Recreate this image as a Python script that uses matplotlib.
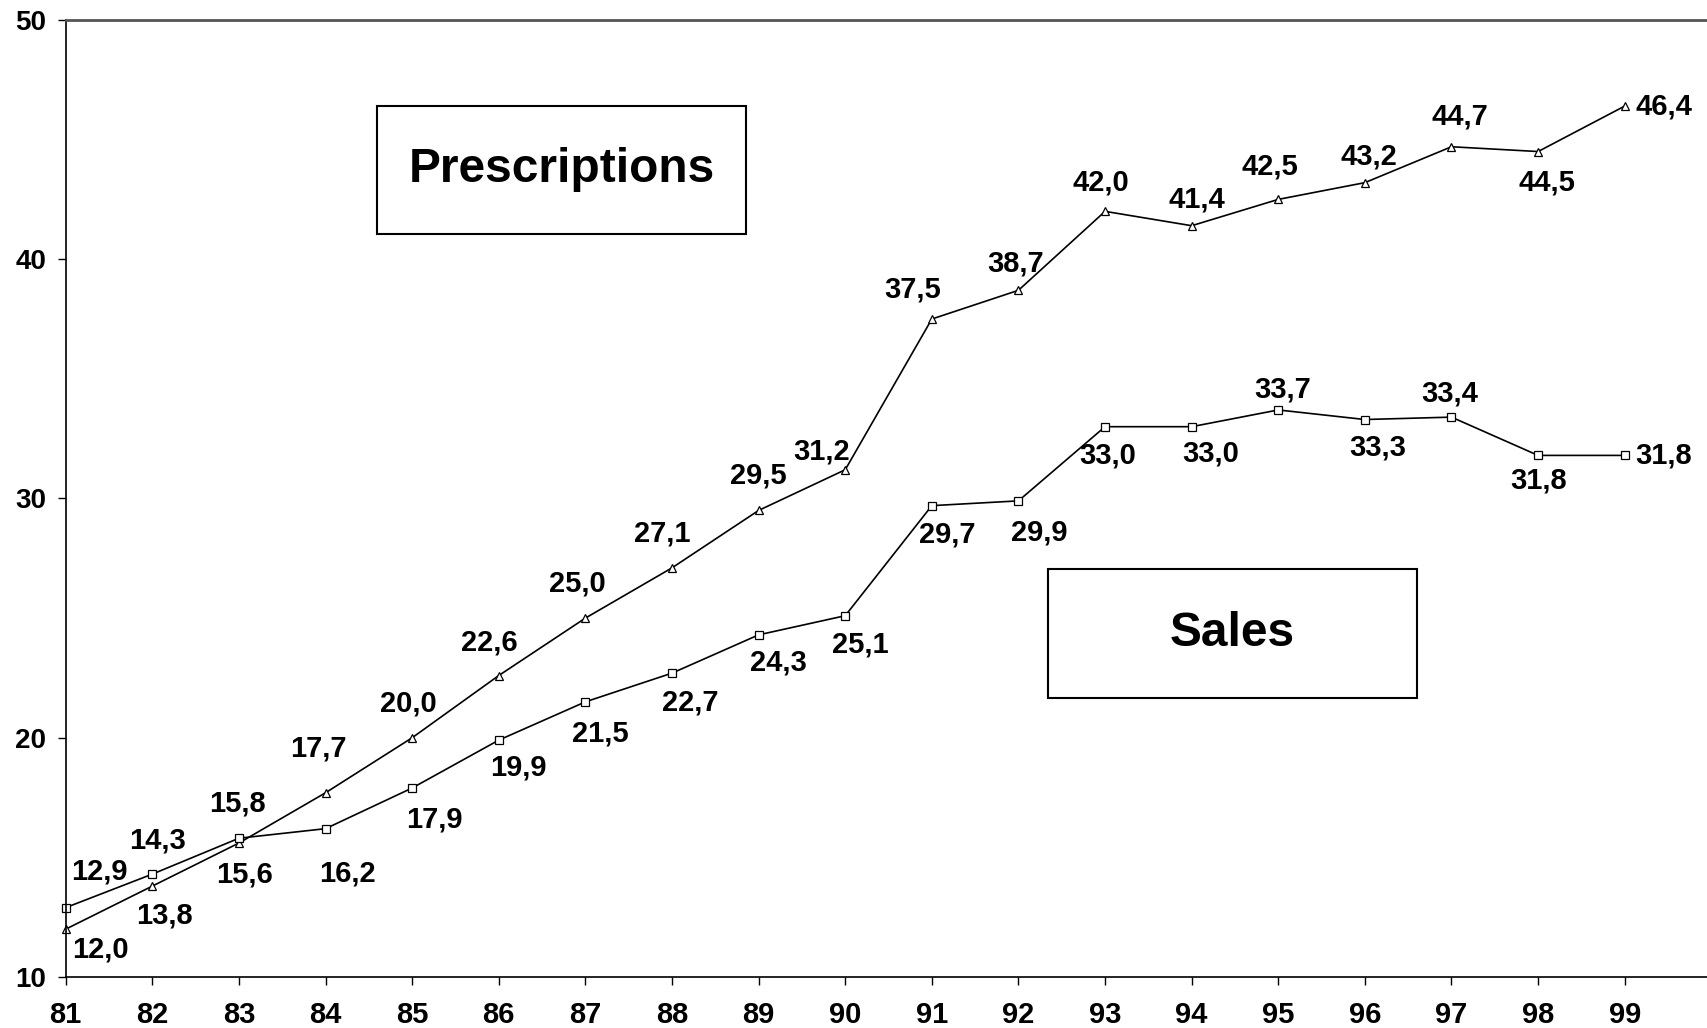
import matplotlib.pyplot as plt
from matplotlib.patches import Rectangle

plt.rcParams['font.family'] = ['Liberation Sans', 'DejaVu Sans']

years = [81, 82, 83, 84, 85, 86, 87, 88, 89, 90, 91, 92, 93, 94, 95, 96, 97, 98, 99]
prescriptions = [12.0, 13.8, 15.6, 17.7, 20.0, 22.6, 25.0, 27.1, 29.5, 31.2,
                 37.5, 38.7, 42.0, 41.4, 42.5, 43.2, 44.7, 44.5, 46.4]
sales = [12.9, 14.3, 15.8, 16.2, 17.9, 19.9, 21.5, 22.7, 24.3, 25.1,
         29.7, 29.9, 33.0, 33.0, 33.7, 33.3, 33.4, 31.8, 31.8]
y_ticks = [10, 20, 30, 40, 50]

# label offsets in points (dx, dy) for each point
presc_off = [(25, -15), (9, -21), (4, -23), (-5, 32), (-3, 25), (-7, 24), (-6, 25),
             (-7, 25), (0, 25), (-17, 13), (-14, 21), (-2, 19), (-3, 21), (4, 19),
             (-6, 24), (3, 19), (6, 22), (6, -22), (28, 0)]
sales_off = [(24, 26), (4, 24), (-1, 25), (16, -32), (16, -23), (14, -20), (11, -23),
             (13, -21), (14, -20), (11, -21), (11, -21), (15, -23), (2, -21), (14, -19),
             (3, 15), (9, -20), (-1, 17), (0, -18), (28, 0)]

fig = plt.figure(figsize=(17.07, 10.28), dpi=100)
ax = fig.add_axes([0.0385, 0.0496, 0.9615, 0.931])

ax.plot(years, prescriptions, color='black', lw=1.2, marker='^', ms=5.5,
        mfc='white', mec='black', mew=0.9, clip_on=False)
ax.plot(years, sales, color='black', lw=1.2, marker='s', ms=5.5,
        mfc='white', mec='black', mew=0.9, clip_on=False)


def fmt(v):
    return f'{v:.1f}'.replace('.', ',')


for x, v, (dx, dy) in zip(years, prescriptions, presc_off):
    ax.annotate(fmt(v), (x, v), xytext=(dx, dy), textcoords='offset points',
                ha='center', va='center', fontsize=21, fontweight='bold')
for x, v, (dx, dy) in zip(years, sales, sales_off):
    ax.annotate(fmt(v), (x, v), xytext=(dx, dy), textcoords='offset points',
                ha='center', va='center', fontsize=21, fontweight='bold')

ax.set_xlim(81, 99.95)
ax.set_ylim(10, 50)
ax.set_xticks(years)
ax.set_xticklabels([str(y) for y in years])
ax.set_yticks(y_ticks)
ax.tick_params(axis='x', direction='out', length=6, width=1, pad=11, labelsize=21)
ax.tick_params(axis='y', direction='out', length=6, width=1, pad=8, labelsize=20)
for lab in ax.get_xticklabels() + ax.get_yticklabels():
    lab.set_fontweight('bold')

ax.spines['right'].set_visible(False)
ax.spines['top'].set_color('#555555')
ax.spines['top'].set_linewidth(2)
for s in ('left', 'bottom'):
    ax.spines[s].set_color('black')
    ax.spines[s].set_linewidth(1.2)

# series name boxes (figure pixel coords)
W, H = 1707, 1028
for (x0, y0, x1, y1), name in [((377, 106, 746, 234), 'Prescriptions'),
                               ((1048, 569, 1417, 698), 'Sales')]:
    fig.patches.append(Rectangle((x0 / W, 1 - y1 / H), (x1 - x0) / W, (y1 - y0) / H,
                                 transform=fig.transFigure, facecolor='white',
                                 edgecolor='black', lw=1.5, zorder=5))
    fig.text((x0 + x1) / 2 / W, 1 - (y0 + y1) / 2 / H, name, ha='center', va='center',
             fontsize=34.5, fontweight='bold', zorder=6)

fig.savefig('out.png', dpi=100)
